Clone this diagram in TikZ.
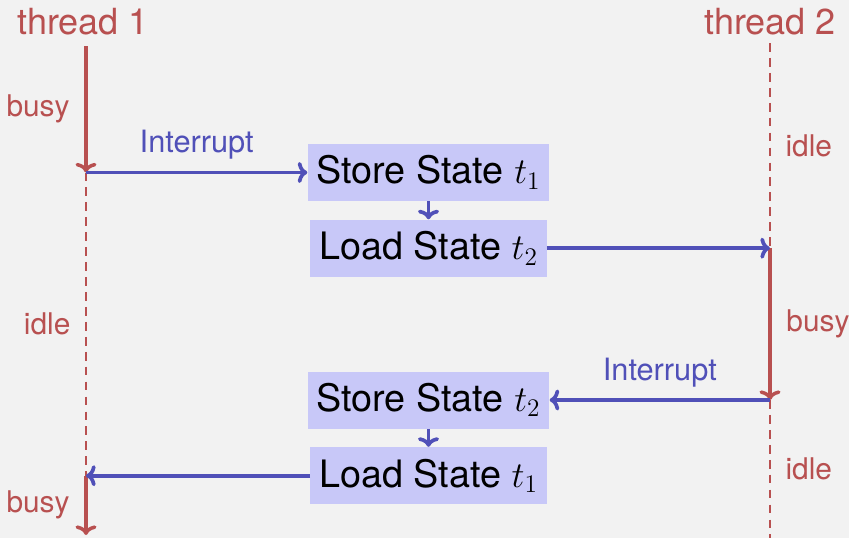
\documentclass[tikz,border=0pt]{standalone}
\usepackage[no-math]{fontspec}
\setmainfont{TeX Gyre Heros}
\usepackage{tikz}
\usetikzlibrary{arrows.meta,positioning,calc}
\definecolor{Paper}{HTML}{F2F2F2}
\definecolor{Thread}{HTML}{B85050}
\definecolor{Signal}{HTML}{5050B8}
\definecolor{Switch}{HTML}{C8C8F8}
\tikzset{
  state/.style={
    fill=Switch,minimum height=1.14cm,inner xsep=5pt,
    font=\fontsize{21.5}{26}\selectfont,text=black
  },
  running/.style={-{To[length=5.5pt,width=12pt]},line width=2pt,draw=Thread},
  waiting/.style={line width=1pt,draw=Thread,dash pattern=on 5pt off 3.5pt},
  signal/.style={-{To[length=5.5pt,width=12pt]},line width=2.1pt,draw=Signal},
  phase/.style={text=Thread,font=\fontsize{17}{20}\selectfont},
  threadname/.style={text=Thread,font=\fontsize{20.5}{25}\selectfont},
  cause/.style={text=Signal,font=\fontsize{17.5}{21}\selectfont}
}
\begin{document}
\begin{tikzpicture}
  \fill[Paper] (0,0) rectangle (16.98,-10.76);
  \useasboundingbox (0,0) rectangle (16.98,-10.76);

  % threads
  \node[threadname] (name1) at (1.66,-0.44) {thread 1};
  \node[threadname] (name2) at (15.4,-0.44) {thread 2};
  \coordinate (t1top) at (1.72,-0.92);
  \coordinate (t2top) at (15.4,-0.86);
  \coordinate (t1end) at (1.72,-10.76);
  \coordinate (t2end) at (15.4,-10.76);

  % context switches
  \node[state] (store1) at (8.57,-3.45) {Store State $t_1$};
  \node[state,below=0.36cm of store1] (load2) {Load State $t_2$};
  \node[state] (store2) at (8.57,-8.0) {Store State $t_2$};
  \node[state,below=0.36cm of store2] (load1) {Load State $t_1$};

  \coordinate (t1int) at (t1top |- store1);
  \coordinate (t2run) at (t2top |- load2);
  \coordinate (t2int) at (t2top |- store2);
  \coordinate (t1run) at (t1top |- load1);

  % thread 1
  \draw[running] (t1top) -- node[phase,midway,left=5pt] {busy} (t1int);
  \draw[waiting] (t1int) -- node[phase,midway,left=5pt] {idle} (t1run);
  \draw[running] (t1run) -- node[phase,midway,left=5pt] {busy} ($(t1end)+(0,0.06)$);

  % thread 2
  \draw[waiting] (t2top) -- node[phase,midway,right=5pt] {idle} (t2run);
  \draw[running] (t2run) -- node[phase,midway,right=5pt] {busy} (t2int);
  \draw[waiting] (t2int) -- node[phase,midway,right=5pt] {idle} (t2end);

  % signals
  \draw[signal] (t1int) -- node[cause,midway,above=3pt] {Interrupt} (store1.west);
  \draw[signal] (store1) -- (load2);
  \draw[signal] (load2.east) -- (t2run);
  \draw[signal] (t2int) -- node[cause,midway,above=3pt] {Interrupt} (store2.east);
  \draw[signal] (store2) -- (load1);
  \draw[signal] (load1.west) -- (t1run);
\end{tikzpicture}
\end{document}
